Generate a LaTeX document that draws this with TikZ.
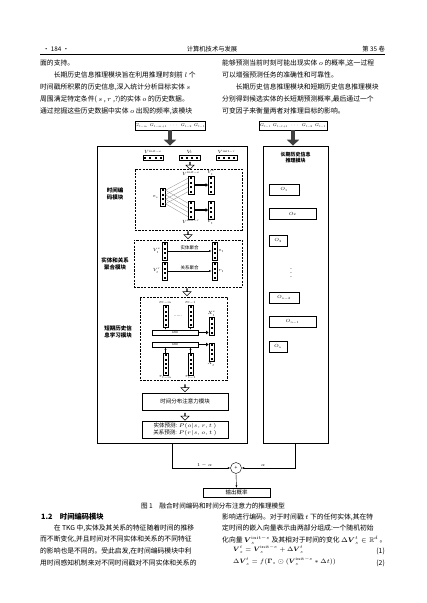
\RequirePackage{fix-cm}
\documentclass[tikz,border=0pt]{standalone}
\usepackage{amsmath}
\usepackage{amssymb}
\usepackage[no-math]{fontspec}
\setmainfont{Noto Sans CJK SC}
\usetikzlibrary{calc, positioning, arrows.meta, shapes.arrows}
\XeTeXlinebreaklocale "zh"
\XeTeXlinebreakskip=0pt plus 1pt
\newcommand\nofill{\parfillskip=0pt\relax}
\tikzset{
  vv/.style={draw, line width=0.4pt, fill=white, inner sep=0pt, minimum width=5.5pt, minimum height=#1*3.9pt+2pt,
    path picture={\foreach \k [evaluate=\k as \f using (\k-0.5)/#1] in {1,...,#1}{
      \fill[black] ($(path picture bounding box.north)!\f!(path picture bounding box.south)$) +(-1pt,-1pt) rectangle +(1pt,1pt);}}},
  hv/.style={draw, line width=0.4pt, fill=white, inner sep=0pt, minimum height=5pt, minimum width=#1*4.6pt+2pt,
    path picture={\foreach \k [evaluate=\k as \f using (\k-0.5)/#1] in {1,...,#1}{
      \fill[black] ($(path picture bounding box.west)!\f!(path picture bounding box.east)$) +(-1pt,-1pt) rectangle +(1pt,1pt);}}},
  lbl/.style={font=\fontsize{4.5}{5}\selectfont, inner sep=0.4pt},
  modlbl/.style={font=\fontsize{5.5}{6.8}\selectfont\bfseries, align=center, inner sep=0pt},
  mbox/.style={draw, line width=0.4pt, inner sep=1pt, font=\fontsize{5.5}{7}\selectfont, align=center},
  gbox/.style={draw, line width=0.4pt, inner sep=0pt, minimum height=9pt, font=\fontsize{4}{5}\selectfont},
  gru/.style={draw, line width=0.4pt, fill=white, inner sep=0pt, minimum width=46pt, minimum height=5.5pt, font=\fontsize{3}{3.5}\selectfont},
  obox/.style={draw, line width=0.4pt, inner sep=0pt, minimum height=11pt, font=\fontsize{4.5}{5}\selectfont},
  bigbox/.style={draw, line width=0.7pt},
  dbox/.style={draw, line width=0.7pt, dash pattern=on 2.2pt off 1.2pt},
  hollow/.style={single arrow, draw, line width=0.5pt, fill=white, rotate=-90, minimum height=7pt, minimum width=8pt, single arrow head extend=2pt, inner sep=0pt},
  fat/.style={line width=4pt, black!75, -{Triangle[length=6pt,width=12pt]}},
  thinarr/.style={line width=0.4pt, -{Latex[length=2.5pt,width=2pt]}},
  boldarr/.style={line width=1.1pt, -{Triangle[length=2.5pt,width=3.5pt]}},
  fan/.style={black!55, line width=0.2pt},
  body/.style={anchor=west, inner sep=0pt, font=\fontsize{6.8}{8}\selectfont},
  mathline/.style={anchor=west, inner sep=0pt, font=\fontsize{6.3}{7}\selectfont},
  jline/.style={body, text width=165pt, align=justify},
  head/.style={inner sep=0pt, font=\fontsize{6.3}{7}\selectfont},
}
\begin{document}
\begin{tikzpicture}[x=1pt, y=-1pt]
  \fill[white] (0,0) rectangle (427,603);

  \node[head, anchor=west] (pgno) at (43,49) {· 184 ·};
  \node[head] (jname) at (212,49) {计算机技术与发展};
  \node[head, anchor=east] (vol) at (385,49) {第 35 卷};
  \draw[line width=0.6pt] (40,54.5) -- (385,54.5);

  \node[body] (pa1) at (40,63) {面的支持。};
  \node[jline] (pa2) at (40,75) {\hspace*{13.6pt}长期历史信息推理模块旨在利用推理时刻前 $l$ 个\nofill};
  \node[jline] (pa3) at (40,87) {时间戳所积累的历史信息,深入统计分析目标实体 $s$\nofill};
  \node[jline] (pa4) at (40,99) {周围满足特定条件( $s$ , $r$ ,?)的实体 $o$ 的历史数据。\nofill};
  \node[jline] (pa5) at (40,111) {通过挖掘这些历史数据中实体 $o$ 出现的频率,该模块\nofill};
  \node[jline] (pb1) at (222,63) {能够预测当前时刻可能出现实体 $o$ 的概率,这一过程\nofill};
  \node[body] (pb2) at (222,75) {可以增强预测任务的准确性和可靠性。};
  \node[jline] (pb3) at (222,87) {\hspace*{13.6pt}长期历史信息推理模块和短期历史信息推理模块\nofill};
  \node[jline] (pb4) at (222,99) {分别得到候选实体的长短期预测概率,最后通过一个\nofill};
  \node[body] (pb5) at (222,111) {可变因子来衡量两者对推理目标的影响。};

  \node[gbox, minimum width=64pt] (gL) at (170,125.5) {$G_{t-m}\enspace G_{t-m+1}\enspace \cdots\enspace G_{t-2}\enspace G_{t-1}$};
  \node[gbox, minimum width=68pt] (gR) at (293,125.5) {$G_{t-l}\enspace G_{t-l+1}\enspace \cdots\enspace G_{t-2}\enspace G_{t-1}$};
  \node[bigbox, minimum width=150pt, minimum height=297pt] (bigL) at (172,294.5) {};
  \node[bigbox, minimum width=65pt, minimum height=297pt] (bigR) at (295.5,294.5) {};
  \draw[fat] (gL.south) -- (gL.south |- bigL.north);
  \draw[fat] (gR.south) -- (gR.south |- bigR.north);

  \node[hv=4] (hve) at (153,157.5) {};
  \node[lbl, above=0.3pt of hve] (lhve) {$V^{\mathrm{init}-e}$};
  \node[hv=4] (hvt) at (189.5,157.5) {};
  \node[lbl, above=0.3pt of hvt] (lhvt) {$V_t$};
  \node[hv=4] (hvr) at (226.5,157.5) {};
  \node[lbl, above=0.3pt of hvr] (lhvr) {$V^{\mathrm{init}-r}$};
  \node[hollow] (ha1) at (190,165.5) {};

  \node[dbox, minimum width=107pt, minimum height=61pt] (encbox) at (188.5,199.5) {};
  \node[modlbl] (enclbl) at (115,194) {时间编\\码模块};
  \node[vv=4] (es) at (162.5,197) {};
  \node[lbl, left=0.5pt of es] (les) {$e_s$};
  \node[vv=4] (vie) at (191,185) {};
  \node[lbl, above=0pt of vie] (lvie) {$V^{\mathrm{init}-e}$};
  \node[vv=4] (vte) at (211,185) {};
  \node[lbl, above=0pt of vte] (lvte) {$V_t^{e}$};
  \node[vv=4] (vir) at (191,210) {};
  \node[lbl, below=0pt of vir] (lvir) {$V^{\mathrm{init}-r}$};
  \node[vv=4] (vtr) at (211,210) {};
  \node[lbl, below=0pt of vtr] (lvtr) {$V_t^{r}$};
  \foreach \k [evaluate=\k as \f using (\k-0.5)/4] in {1,...,4}{
    \draw[fan] ($(es.north east)!\f!(es.south east)$) -- ($(vie.north west)!\f!(vie.south west)$);
    \draw[fan] ($(es.north east)!\f!(es.south east)$) -- ($(vir.north west)!\f!(vir.south west)$);
  }
  \draw[boldarr] (vie) -- (vte);
  \draw[boldarr] (vir) -- (vtr);
  \node[hollow] (ha2) at (188,235) {};

  \node[dbox, minimum width=108pt, minimum height=47pt] (aggbox) at (188,263.5) {};
  \node[modlbl] (agglbl) at (115,264) {实体和关系\\聚合模块};
  \node[vv=4] (ave) at (164.5,251) {};
  \node[lbl, left=0.5pt of ave] (lave) {$V_t^{e}$};
  \node[vv=4] (aet) at (214.5,251) {};
  \node[lbl, right=0.5pt of aet] (laet) {$e_t$};
  \draw[thinarr] (ave) -- (aet) node[lbl, midway, above=0.3pt] (lent) {实体聚合};
  \node[vv=4] (avr) at (164.5,271) {};
  \node[lbl, left=0.5pt of avr] (lavr) {$V_t^{r}$};
  \node[vv=4] (art) at (214.5,271) {};
  \node[lbl, right=0.5pt of art] (lart) {$r_t$};
  \draw[thinarr] (avr) -- (art) node[lbl, midway, above=0.3pt] (lrel) {关系聚合};
  \node[hollow] (ha3) at (187,292) {};

  \node[dbox, minimum width=87pt, minimum height=83pt] (stbox) at (183.5,338.5) {};
  \node[modlbl] (stlbl) at (118,332) {短期历史信\\息学习模块};
  \node[vv=5] (etm) at (165.5,316) {};
  \node[lbl, above=0pt of etm] (letm) {$e_{t-m}$};
  \node[vv=5] (et1) at (190.5,316) {};
  \node[lbl, above=0pt of et1] (let1) {$e_{t-1}$};
  \node[lbl] (edots) at (178,316) {......};
  \node[gru] (g1) at (175,332.5) {GRU};
  \node[gru] (g2) at (175,344.5) {GRU};
  \node[vv=5] (rtm) at (165.5,364) {};
  \node[lbl, below=0pt of rtm] (lrtm) {$r_{t-m}$};
  \node[vv=5] (rt1) at (190.5,364) {};
  \node[lbl, below=0pt of rt1] (lrt1) {$r_{t-1}$};
  \node[vv=4] (xe) at (211.5,326) {};
  \node[lbl, above=0pt of xe] (lxe) {$X_t^{e}$};
  \node[vv=4] (xr) at (211.5,352) {};
  \node[lbl, below=0pt of xr] (lxr) {$X_t^{r}$};
  \draw[thinarr] (etm.south) -- (etm.south |- g1.north);
  \draw[thinarr] (et1.south) -- (et1.south |- g1.north);
  \draw[thinarr] (rtm.north) -- (rtm.north |- g2.south);
  \draw[thinarr] (rt1.north) -- (rt1.north |- g2.south);
  \draw[boldarr] (g1.east) -- (g1.east -| xe.west);
  \draw[boldarr] (g2.east) -- (g2.east -| xr.west);
  \node[hollow] (ha4) at (185,388) {};

  \node[mbox, minimum width=86pt, minimum height=17pt] (att) at (185,401.5) {时间分布注意力模块};
  \node[hollow] (ha5) at (185,416.5) {};
  \node[mbox, minimum width=86pt, minimum height=17pt, inner sep=0pt] (pred) at (185,429.5) {实体预测: $P(o|s,r,t\,)$\\关系预测: $P(r|s,o,t\,)$};

  \node[modlbl, font=\fontsize{5}{6.3}\selectfont\bfseries] (rttl) at (295.5,157.5) {长期历史信息\\推理模块};
  \node[obox, minimum width=30pt] (o1) at (284,189.5) {$O_1$};
  \node[obox, minimum width=47pt] (o2) at (292.5,214) {$O_2$};
  \node[obox, minimum width=18pt] (o3) at (278,240.5) {$O_3$};
  \node[inner sep=0pt, font=\fontsize{7}{7}\selectfont] (odots) at (291,270.5) {$\vdots$};
  \node[obox, minimum width=30pt] (on2) at (284,297.5) {$O_{n-2}$};
  \node[obox, minimum width=47pt] (on1) at (292.5,321.5) {$O_{n-1}$};
  \node[obox, minimum width=18pt] (on) at (278,346.5) {$O_n$};

  \node[circle, draw, line width=0.4pt, minimum size=11pt, inner sep=0pt, font=\fontsize{5}{5}\selectfont] (sum) at (236,468) {+};
  \node[mbox, minimum width=67pt, minimum height=9pt, inner sep=0pt] (outp) at (236.5,492.5) {输出概率};
  \draw[thinarr] (bigL.south) |- (sum.west) node[lbl, pos=0.78, above=0.5pt] (lone) {$1-\alpha$};
  \draw[thinarr] (bigR.south) |- (sum.east) node[lbl, pos=0.8, above=0.5pt] (lalp) {$\alpha$};
  \draw[thinarr] (sum.south) -- (outp.north);
  \node[inner sep=0pt, font=\fontsize{6.6}{7}\selectfont] (cap) at (213,506) {图 1\quad 融合时间编码和时间分布注意力的推理模型};

  \node[body, font=\fontsize{7.3}{8}\selectfont\bfseries] (sec) at (41,517) {1.2\quad 时间编码模块};
  \node[jline] (pc1) at (40,528) {\hspace*{13.6pt}在 TKG 中,实体及其关系的特征随着时间的推移\nofill};
  \node[jline] (pc2) at (40,539.5) {而不断变化,并且时间对不同实体和关系的不同特征\nofill};
  \node[jline] (pc3) at (40,551) {的影响也是不同的。受此启发,在时间编码模块中利\nofill};
  \node[jline] (pc4) at (40,562.5) {用时间感知机制来对不同时间戳对不同实体和关系的\nofill};
  \node[jline] (pd1) at (222,517) {影响进行编码。对于时间戳 $t$ 下的任何实体,其在特\nofill};
  \node[jline] (pd2) at (222,528) {定时间的嵌入向量表示由两部分组成:一个随机初始\nofill};
  \node[body] (pd3) at (222,539.5) {化向量 $\smash{\boldsymbol{V}_s^{\mathrm{init}-e}}$ 及其相对于时间的变化 $\smash{\Delta\boldsymbol{V}_s^t\in\mathbb{R}^d}$ 。};
  \node[mathline] (eq1) at (233,551.5) {$\smash{\boldsymbol{V}_s^t=\boldsymbol{V}_s^{\mathrm{init}-e}+\Delta\boldsymbol{V}_s^t}$};
  \node[body, anchor=east] (eqn1) at (385,551.5) {(1)};
  \node[mathline] (eq2) at (233,563) {$\smash{\Delta\boldsymbol{V}_s^t=f(\boldsymbol{\Gamma}_s\odot(\boldsymbol{V}_s^{\mathrm{init}-e}*\Delta t))}$};
  \node[body, anchor=east] (eqn2) at (385,563) {(2)};
\end{tikzpicture}
\end{document}
